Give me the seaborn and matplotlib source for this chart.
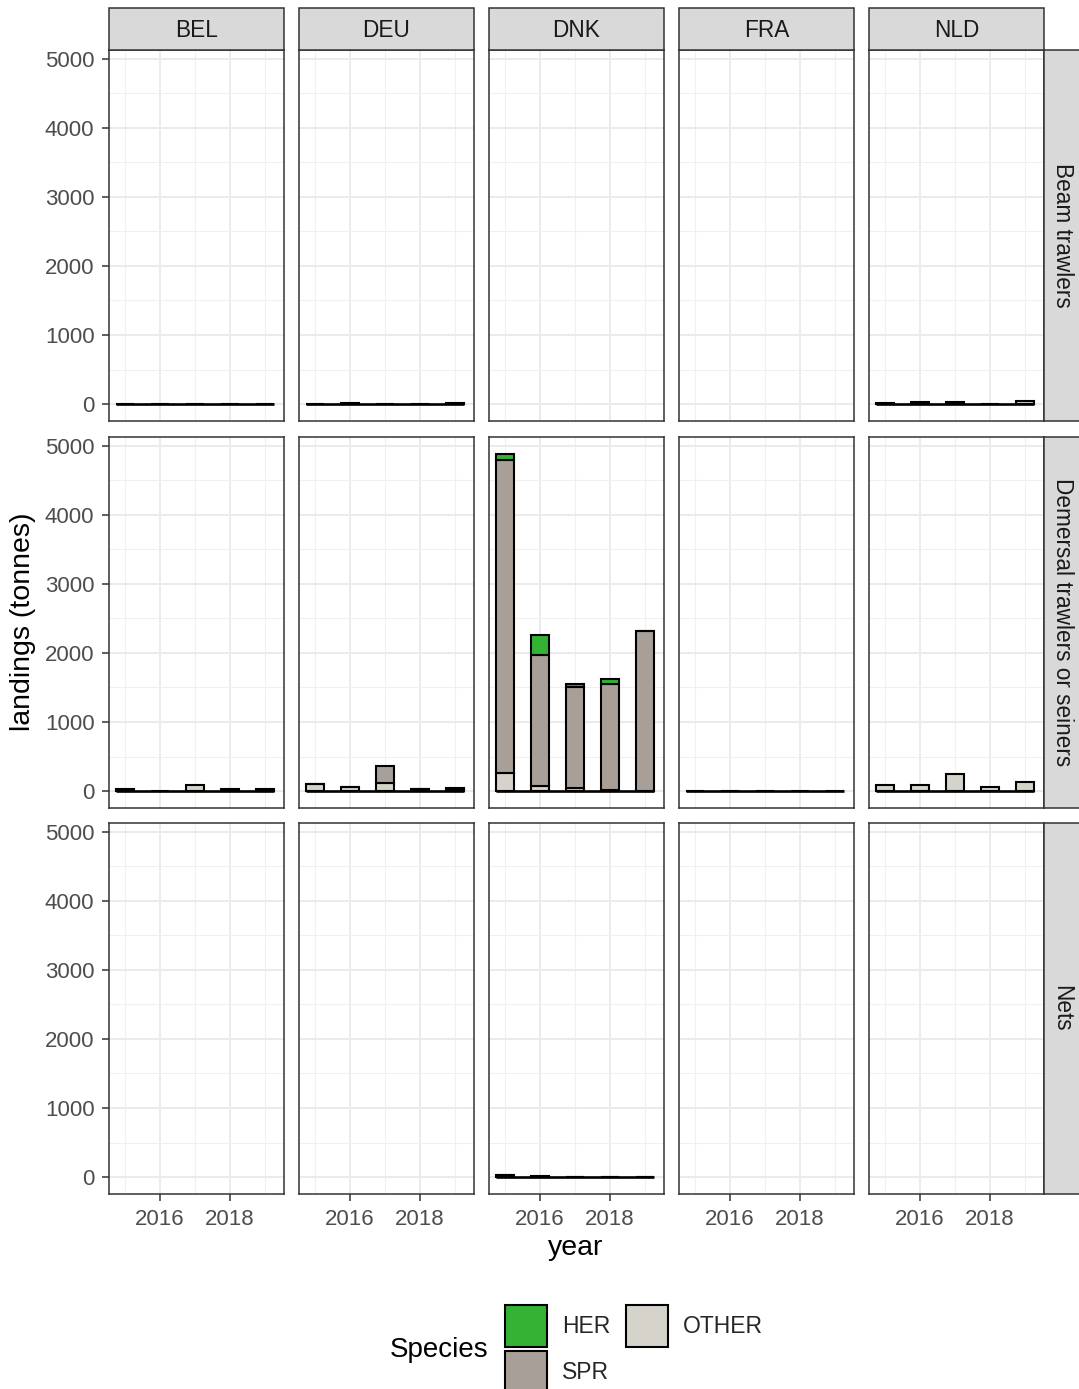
import matplotlib
matplotlib.use("Agg")
import matplotlib.pyplot as plt
from matplotlib.patches import Patch, Rectangle
from matplotlib.ticker import MultipleLocator, FixedLocator
import pandas as pd
import seaborn as sns

# ---- data -------------------------------------------------------------
years = [2015, 2016, 2017, 2018, 2019]
countries = ["BEL", "DEU", "DNK", "FRA", "NLD"]
gears = ["Beam trawlers", "Demersal trawlers or seiners", "Nets"]
species = ["HER", "SPR", "OTHER"]
species_colors = ["#33B233", "#A89F98", "#D6D3CB"]

# landings (tonnes) by year, one list per gear / country / species
beam_bel_other = [0, 0, 0, 0, 0]
beam_deu_other = [0, 15, 0, 0, 15]
beam_nld_other = [15, 25, 25, 5, 45]

dem_bel_other = [25, 0, 85, 30, 35]
dem_deu_other = [105, 55, 120, 25, 35]
dem_deu_spr = [0, 0, 240, 0, 10]
dem_dnk_her = [95, 300, 45, 75, 0]
dem_dnk_spr = [4530, 1895, 1460, 1540, 2320]
dem_dnk_other = [255, 70, 45, 10, 0]
dem_fra_other = [0, 0, 0, 0, 0]
dem_nld_other = [95, 85, 245, 65, 125]

nets_dnk_spr = [0, 15, 0, 0, 0]
nets_dnk_other = [25, 0, 0, 0, 0]

series = [
    ("Beam trawlers", "BEL", "OTHER", beam_bel_other),
    ("Beam trawlers", "DEU", "OTHER", beam_deu_other),
    ("Beam trawlers", "NLD", "OTHER", beam_nld_other),
    ("Demersal trawlers or seiners", "BEL", "OTHER", dem_bel_other),
    ("Demersal trawlers or seiners", "DEU", "OTHER", dem_deu_other),
    ("Demersal trawlers or seiners", "DEU", "SPR", dem_deu_spr),
    ("Demersal trawlers or seiners", "DNK", "HER", dem_dnk_her),
    ("Demersal trawlers or seiners", "DNK", "SPR", dem_dnk_spr),
    ("Demersal trawlers or seiners", "DNK", "OTHER", dem_dnk_other),
    ("Demersal trawlers or seiners", "FRA", "OTHER", dem_fra_other),
    ("Demersal trawlers or seiners", "NLD", "OTHER", dem_nld_other),
    ("Nets", "DNK", "SPR", nets_dnk_spr),
    ("Nets", "DNK", "OTHER", nets_dnk_other),
]

rows = []
for gear, country, sp, vals in series:
    for yr, v in zip(years, vals):
        rows.append({"gear": gear, "country": country, "species": sp,
                     "year": yr, "landings": v})
df = pd.DataFrame(rows)

# ---- style ------------------------------------------------------------
sns.set_style("white")
plt.rcParams["font.family"] = ["Liberation Sans", "DejaVu Sans"]

W, H = 1079, 1389
BAR_W = 0.52
palette = dict(zip(species, species_colors))


def stacked_bars(data, **kws):
    ax = plt.gca()
    sns.histplot(data=data, x="year", weights="landings", hue="species",
                 hue_order=species, palette=palette, multiple="stack",
                 discrete=True, shrink=BAR_W, alpha=1, edgecolor="black",
                 linewidth=1.5, legend=False, ax=ax)
    yrs = data["year"]
    ax.hlines(0, yrs.min() - BAR_W / 2, yrs.max() + BAR_W / 2,
              color="black", linewidth=1.9, zorder=3)


g = sns.FacetGrid(df, row="gear", col="country", row_order=gears,
                  col_order=countries, sharex=True, sharey=True,
                  height=3, aspect=0.5)
g.map_dataframe(stacked_bars)
fig = g.figure
fig.set_size_inches(W / 100, H / 100)

# panel geometry in pixels
col_left = [109, 299, 489, 679, 869]
panel_w = 175
row_top = [50, 437, 823]
panel_h = 371

for i, gear in enumerate(gears):
    for j, country in enumerate(countries):
        ax = g.axes[i, j]
        ax.set_position([col_left[j] / W, 1 - (row_top[i] + panel_h) / H,
                         panel_w / W, panel_h / H])
        ax.set_title("")
        ax.set_xlim(2014.54, 2019.54)
        ax.set_ylim(-245, 5125)
        ax.xaxis.set_major_locator(FixedLocator([2016, 2018]))
        ax.xaxis.set_minor_locator(FixedLocator([2015, 2017, 2019]))
        ax.yaxis.set_major_locator(MultipleLocator(1000))
        ax.yaxis.set_minor_locator(MultipleLocator(500))
        ax.grid(which="major", color="#EBEBEB", linewidth=1.4, zorder=0)
        ax.grid(which="minor", color="#F0F0F0", linewidth=0.75, zorder=0)
        ax.set_axisbelow(True)
        for s in ax.spines.values():
            s.set_visible(True)
            s.set_color("#333333")
            s.set_linewidth(1.1)
        ax.set_xlabel("")
        ax.set_ylabel("")
        ax.tick_params(which="major", length=5, width=1.1, color="#333333",
                       labelsize=16, labelcolor="#4D4D4D", pad=5.5)
        ax.tick_params(which="minor", length=0)
        ax.tick_params(axis="x", bottom=(i == 2), labelbottom=(i == 2))
        ax.tick_params(axis="y", left=(j == 0), labelleft=(j == 0))

# column strips
for j, country in enumerate(countries):
    fig.add_artist(Rectangle((col_left[j] / W, 1 - 50 / H), panel_w / W,
                             42 / H, transform=fig.transFigure,
                             facecolor="#D9D9D9", edgecolor="#333333",
                             linewidth=1.1))
    fig.text((col_left[j] + panel_w / 2) / W, 1 - 30.5 / H, country,
             ha="center", va="center", fontsize=16.3, color="#1A1A1A")

# row strips
strip_x = col_left[-1] + panel_w
for i, gear in enumerate(gears):
    fig.add_artist(Rectangle((strip_x / W, 1 - (row_top[i] + panel_h) / H),
                             42 / W, panel_h / H, transform=fig.transFigure,
                             facecolor="#D9D9D9", edgecolor="#333333",
                             linewidth=1.1, clip_on=False))
    fig.text((strip_x + 18) / W, 1 - (row_top[i] + panel_h / 2) / H, gear,
             ha="center", va="center", rotation=-90, fontsize=16.3,
             color="#1A1A1A")

# axis titles
fig.text(576 / W, 1 - 1248 / H, "year", ha="center", va="center",
         fontsize=20.5, color="black")
fig.text(23 / W, 1 - 622 / H, "landings (tonnes)", ha="center",
         va="center", rotation=90, fontsize=20.5, color="black")

# legend
handles = [Patch(facecolor=c, edgecolor="black", linewidth=1.5)
           for c in species_colors]
fig.legend(handles, species, ncol=2, loc="upper left",
           bbox_to_anchor=(505 / W, 1 - 1305 / H), frameon=False,
           fontsize=16.5, handlelength=1.83, handleheight=2.44,
           handletextpad=0.65, labelspacing=0.17, columnspacing=0.7,
           borderpad=0, borderaxespad=0)
fig.text(439 / W, 1 - 1350 / H, "Species", ha="center", va="center",
         fontsize=20, color="black")

fig.savefig("out.png", dpi=100)
